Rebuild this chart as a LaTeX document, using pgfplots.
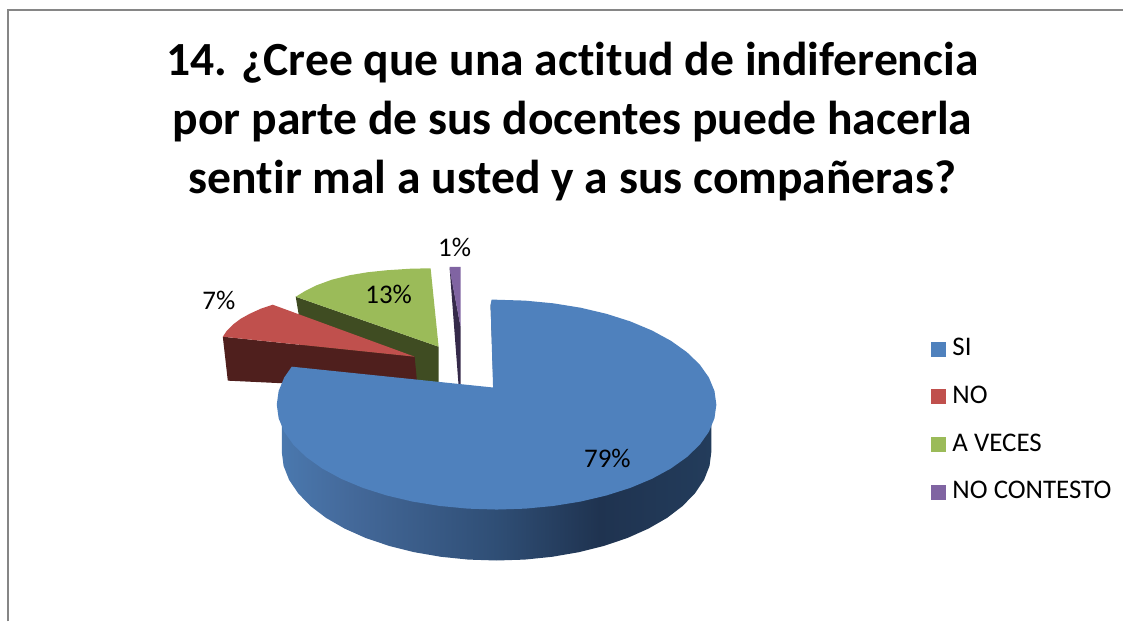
\documentclass[border=0pt]{standalone}
\usepackage{pgfplots}
\pgfplotsset{compat=1.18}
\usepackage{fontspec}
\setmainfont{Carlito}[Ligatures=NoCommon]
\definecolor{cblue}{HTML}{4F81BD}
\definecolor{cred}{HTML}{C0504D}
\definecolor{cgreen}{HTML}{9BBB59}
\definecolor{cpurple}{HTML}{8064A2}
\definecolor{dred}{HTML}{4F1F1D}
\definecolor{dgreen}{HTML}{3F4C22}
\definecolor{dpurple}{HTML}{352A4A}
\definecolor{dblue}{HTML}{24405F}
\definecolor{cborder}{HTML}{868686}
\definecolor{wa}{HTML}{4A78AE}
\definecolor{wb}{HTML}{44699A}
\definecolor{wc}{HTML}{2F4E75}
\definecolor{wd}{HTML}{1F3350}
\definecolor{we}{HTML}{233C5B}
\pgfdeclarehorizontalshading{bluewall}{100bp}{
  color(0bp)=(wa);
  color(25bp)=(wa);
  color(33bp)=(wb);
  color(50bp)=(wc);
  color(62bp)=(wd);
  color(75bp)=(we);
  color(100bp)=(we)}
\begin{document}
\begin{tikzpicture}
\begin{axis}[
  hide axis, scale only axis, width=843pt, height=466.5pt,
  xmin=0, xmax=1124, ymin=0, ymax=622, y dir=reverse, clip=false,
  legend image code/.code={\fill[#1] (0pt,-5.6pt) rectangle (11.2pt,5.6pt);\path (16pt,0pt);},
  legend style={draw=none, fill=none, at={(axis cs:932,337.5)}, anchor=north west,
    inner sep=0pt, outer sep=0pt, row sep=17.75pt,
    nodes={inner sep=0pt, outer sep=0pt, font=\fontsize{20.2}{24}\selectfont, text height=14pt, text depth=4pt}},
  legend cell align=left,
]
\addlegendimage{fill=cblue,draw=none}\addlegendentry{SI}
\addlegendimage{fill=cred,draw=none}\addlegendentry{NO}
\addlegendimage{fill=cgreen,draw=none}\addlegendentry{A VECES}
\addlegendimage{fill=cpurple,draw=none}\addlegendentry{NO CONTESTO}

% page corners and chart border
\addplot[draw=none, forget plot] coordinates {(0,0) (1124,622)};
\addplot[cborder, line width=1.5pt, forget plot] coordinates {(8,622) (8,10) (1124,10)};

% A VECES wall and top
\addplot[fill=dgreen, draw=none, forget plot] coordinates {(296,297) (439,347) (439,390) (300,390) (299,315)} --cycle;
\addplot[fill=cgreen, draw=none, forget plot] coordinates {(296,297) (305,291.5) (317,285.5) (332,280) (350,275.5) (368,272.5) (387,270.5) (410,269) (431,268.5) (439,347)} --cycle;

% NO wall and top
\addplot[fill=dred, draw=none, forget plot] coordinates {(223,337) (415,357) (417,378) (417,390) (228,381)} --cycle;
\addplot[fill=cred, draw=none, forget plot] coordinates {(223,337) (227,331) (233,325) (241,319) (250,314) (261,309) (273,305) (415,357)} --cycle;

% NO CONTESTO wall and top
\addplot[fill=dpurple, draw=none, forget plot] coordinates {(450,268) (461,327) (461,386) (459,386)} --cycle;
\addplot[fill=cpurple, draw=none, forget plot] coordinates {(450,267) (461,267) (461,327) (450.5,272)} --cycle;

% SI wall and top
\addplot[shading=bluewall, draw=none, forget plot] coordinates {(712,420) (712,452) (710.2,466.2) (704.7,480.2) (695.6,493.7) (683.2,506.5) (667.6,518.4) (649,529.1) (627.9,538.5) (604.5,546.4) (579.3,552.7) (552.6,557.3) (525.1,560.1) (497,561) (468.9,560.1) (441.4,557.3) (414.7,552.7) (389.5,546.4) (366.1,538.5) (345,529.1) (326.4,518.4) (310.8,506.5) (298.4,493.7) (289.3,480.2) (283.8,466.2) (282,452) (282,420)} --cycle;
\addplot[fill=dblue, draw=none, forget plot] coordinates {(491,305) (493,305) (495.5,388) (494,388)} --cycle;
\addplot[fill=cblue, draw=none, forget plot] coordinates {(492,300) (497,300) (525.7,300.9) (553.9,303.6) (581.2,308) (607,314.1) (630.9,321.7) (652.6,330.8) (671.5,341.1) (687.5,352.5) (700.3,364.8) (709.5,377.8) (715.1,391.3) (717,405) (715.1,418.7) (709.5,432.2) (700.3,445.2) (687.5,457.5) (671.5,468.9) (652.6,479.2) (630.9,488.3) (607,495.9) (581.2,502) (553.9,506.4) (525.7,509.1) (497,510) (468.3,509.1) (440.1,506.4) (412.8,502) (387,495.9) (363.1,488.3) (341.4,479.2) (322.5,468.9) (306.5,457.5) (293.7,445.2) (284.5,432.2) (278.9,418.7) (277,405) (278.9,391.3) (284.5,377.8) (292,367) (495,388) (493.5,388) (491,305)} --cycle;

% data labels
\node[font=\fontsize{20.2}{24}\selectfont, inner sep=0pt] at (axis cs:608,459) {79\%};
\node[font=\fontsize{20.2}{24}\selectfont, inner sep=0pt] at (axis cs:389,295) {13\%};
\node[font=\fontsize{20.2}{24}\selectfont, inner sep=0pt] at (axis cs:219,301) {7\%};
\node[font=\fontsize{20.2}{24}\selectfont, inner sep=0pt] at (axis cs:455,248) {1\%};

% title
\node[font=\fontsize{35.7}{44.25}\selectfont\bfseries, align=center, inner sep=0pt] at (axis cs:573,122) {14. ¿Cree que una actitud de indiferencia\\por parte de sus docentes puede hacerla\\sentir mal a usted y a sus compañeras?};
\end{axis}
\end{tikzpicture}
\end{document}
